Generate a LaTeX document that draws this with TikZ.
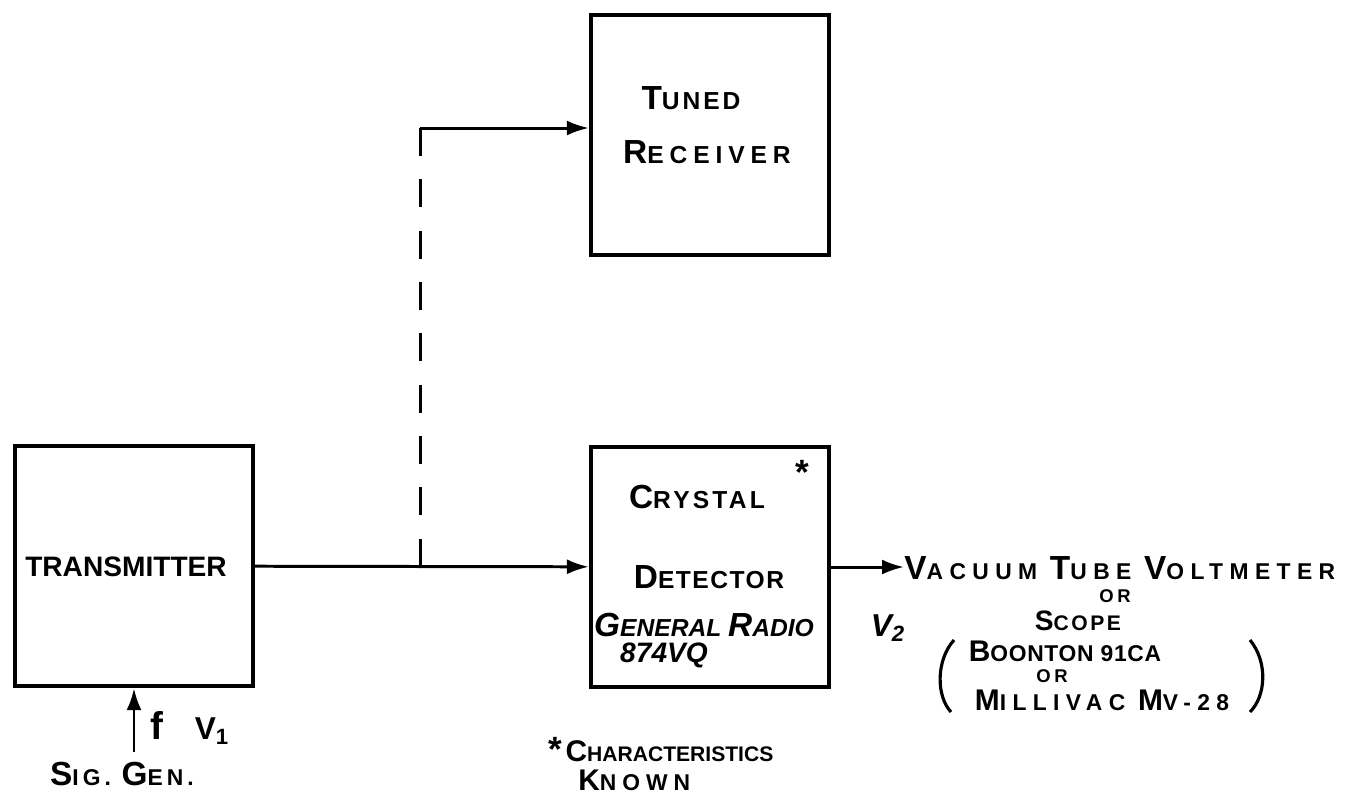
\documentclass[tikz,border=0pt]{standalone}
\usepackage{fontspec}
\setmainfont{Liberation Sans}
\usetikzlibrary{positioning, arrows.meta}
% hand lettering: larger first letter, adjustable spacing
\newcommand{\initl}[2][19]{{\fontsize{#1}{#1}\selectfont #2}}
\newcommand{\spaced}[2]{{\addfontfeature{LetterSpace=#1}#2}}

\begin{document}
\begin{tikzpicture}[>={Latex[length=4.4mm, width=3mm]}, x=0.2mm, y=-0.2mm]

        % --- Styles ---
        \tikzset{
            block/.style={draw, line width=2.4pt, minimum width=47.6mm, minimum height=48mm},
            wire/.style={line width=1.7pt},
            dashwire/.style={wire, dash pattern=on 5.6mm off 4.67mm},
            hand/.style={font=\fontsize{14}{16}\selectfont\bfseries, inner sep=0pt},
            handit/.style={font=\fontsize{14}{16}\selectfont\bfseries\itshape, inner sep=0pt},
            note/.style={font=\fontsize{13}{15}\selectfont\bfseries, inner sep=0pt},
            small/.style={font=\fontsize{10.5}{12}\selectfont\bfseries, inner sep=0pt},
            paren/.style={line width=1.8pt}
        }

        \useasboundingbox (0,0) rectangle (1369,803);

        % --- Blocks ---
        \node[block] (tx) at (134,566) {};
        \node[block] (tr) at (710,135) {};
        \node[block] (cd) at (710,567) {};

        % --- Block texts ---
        \node[font=\fontsize{16}{18}\selectfont\bfseries, inner sep=0pt] (txname) at (126,567) {TRANSMITTER};
        \node[hand] (trl1) at (691,98) {\spaced{12}{\initl{T}UNED}};
        \node[hand] (trl2) at (707,152) {\spaced{24}{\initl{R}ECEIVER}};
        \node[hand] (cdl1) at (697,497) {\spaced{13}{\initl{C}RYSTAL}};
        \node[hand] (cdl2) at (709,577) {\spaced{6}{\initl{D}ETECTOR}};
        \node[handit] (cdl3) at (704,625) {\initl{G}ENERAL \initl{R}ADIO};
        \node[handit, font=\fontsize{16}{18}\selectfont\bfseries\itshape] (cdl4) at (664,655) {874VQ};
        \node[font=\fontsize{20}{20}\selectfont\bfseries, inner sep=0pt] (star) at (802,472) {*};

        % --- Connections ---
        \coordinate (tap) at (420,567);
        \coordinate (bend) at (420,128);
        \draw[wire, ->] (tx) -- (cd);
        \draw[dashwire] (bend) -- (tap);
        \draw[wire, ->] (bend) -- (bend -| tr.west);

        % --- Signal generator input ---
        \node[note] (sig) at (122,774) {\spaced{18}{\initl{S}IG. \initl{G}EN.}};
        \coordinate (sigtail) at (134,752);
        \draw[wire, ->] (sigtail) -- (tx.south);
        \node[font=\fontsize{18}{20}\selectfont\bfseries, inner sep=0pt, anchor=west] (fv) at (150,728)
            {{\fontsize{22}{22}\selectfont f}\quad V\textsubscript{1}};

        % --- Output side ---
        \node[note, anchor=west] (vtvm) at (904,568)
            {\spaced{28}{\initl{V}ACUUM \initl{T}UBE \initl{V}OLTMETER}};
        \draw[wire, ->] (cd.east) -- (cd.east -| vtvm.west);
        \node[small] (or1) at (1115,596) {\spaced{20}{OR}};
        \node[font=\fontsize{12}{14}\selectfont\bfseries, inner sep=0pt] (scope) at (1078,621)
            {\spaced{12}{{\fontsize{16}{16}\selectfont S}COPE}};
        \node[font=\fontsize{18}{20}\selectfont\bfseries\itshape, inner sep=0pt] (vout) at (888,628) {V\textsubscript{2}};
        \node[note] (boon) at (1065,651) {\spaced{3}{\initl[17]{B}OONTON 91CA}};
        \node[small] (or2) at (1052,676) {\spaced{20}{OR}};
        \node[note] (mill) at (1102,700) {\spaced{28}{\initl[17]{M}ILLIVAC \initl[17]{M}V-28}};
        \draw[paren] (954,640) .. controls (936,660) and (936,696) .. (951,712);
        \draw[paren] (1250,640) .. controls (1268,662) and (1266,696) .. (1250,712);

        % --- Footnote ---
        \node[font=\fontsize{12}{13}\selectfont\bfseries, inner sep=0pt, anchor=west] (foot) at (548,750)
            {{\fontsize{20}{20}\selectfont *}\,\initl[17]{C}HARACTERISTICS};
        \node[note, anchor=west] (known) at (578,780) {\spaced{26}{\initl[17]{K}NOWN}};

    \end{tikzpicture}
\end{document}
